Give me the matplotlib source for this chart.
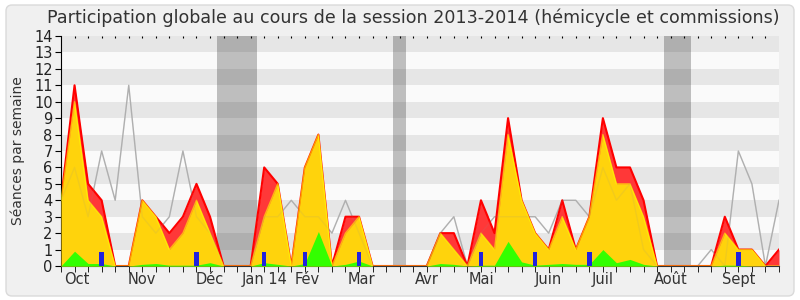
import matplotlib.pyplot as plt
import numpy as np
from matplotlib.patches import FancyBboxPatch

weeks = np.arange(54)
# participation totale (rouge), hemicycle (jaune), commissions (vert)
total = [4, 11, 5, 4, 0, 0, 4, 3, 2, 3, 5, 3, 0, 0, 0, 6, 5, 0, 6, 8,
         0, 3, 3, 0, 0, 0, 0, 0, 2, 2, 0, 4, 2, 9, 4, 2, 1, 4, 1, 3,
         9, 6, 6, 4, 0, 0, 0, 0, 0, 3, 1, 1, 0, 1]
hemi = [4, 10, 4, 3, 0, 0, 4, 3, 1, 2, 4, 2, 0, 0, 0, 3, 5, 0, 6, 8,
        0, 2, 3, 0, 0, 0, 0, 0, 2, 1, 0, 2, 1, 8, 4, 2, 1, 3, 1, 3,
        8, 5, 5, 3, 0, 0, 0, 0, 0, 2, 1, 1, 0, 0]
comm = [0, 0.9, 0.15, 0.15, 0, 0, 0.1, 0.15, 0.05, 0.05, 0.05, 0.2, 0, 0, 0, 0.2, 0.1, 0, 0.15, 2.1,
        0, 0.1, 0.3, 0, 0, 0, 0, 0, 0.15, 0.1, 0, 0.05, 0.05, 1.5, 0.25, 0.05, 0.1, 0.15, 0.1, 0.1,
        1.0, 0.2, 0.4, 0.1, 0, 0, 0, 0, 0, 0.05, 0.05, 0, 0, 0]
mediane = [4, 6, 3, 7, 4, 11, 3, 2, 3, 7, 3, 2, 0, 0, 0, 3, 3, 4, 3, 3,
           2, 4, 2, 0, 0, 0, 0, 0, 2, 3, 0, 2, 3, 3, 3, 3, 2, 4, 4, 3,
           6, 4, 5, 1, 0, 0, 0, 0, 1, 0, 7, 5, 0, 4]
questions = [3, 10, 15, 18, 22, 31, 35, 39, 50]
vacances = [(11.5, 14.5), (24.5, 25.5), (44.5, 46.5)]
mois = ['Oct', 'Nov', 'Déc', 'Jan 14', 'Fév', 'Mar', 'Avr', 'Mai', 'Juin', 'Juil', 'Août', 'Sept']
mois_pos = [1.15, 6, 11, 15, 18.2, 22.2, 27, 31, 36, 40, 45, 50]

fig = plt.figure(figsize=(8, 3), dpi=100, facecolor='white')
fig.patches.append(FancyBboxPatch((6, 4), 788, 291, boxstyle='round,pad=0,rounding_size=6',
                                  transform=None, fc='#f0f0f0', ec='#dadada', lw=1, zorder=-10))
ax = fig.add_axes([61 / 800, 1 - 266 / 300, 718 / 800, 230 / 300])
ax.set_facecolor('#fafafa')

for k in range(1, 14, 2):
    ax.axhspan(k, k + 1, color='#e6e6e6', lw=0, zorder=0)
for a, b in vacances:
    ax.axvspan(a, b, color='black', alpha=0.24, lw=0, zorder=0.5)

ax.plot(weeks, mediane, color='#b4b4b4', lw=1, zorder=1)
ax.fill_between(weeks, 0, total, color='#ff3838', lw=0, zorder=2)
ax.plot(weeks, total, color='#ff0000', lw=1.5, zorder=2.1)
ax.fill_between(weeks, 0, hemi, color='#ffd30c', lw=0, zorder=3)
ax.plot(weeks, hemi, color='#ffff00', lw=1, alpha=0.6, zorder=3.1)
ax.fill_between(weeks, 0, comm, color='#33ff00', lw=0, zorder=4)
# mediane visible en transparence sur les aires
ax.plot(weeks, mediane, color='#909090', lw=1, alpha=0.12, zorder=4.5)
ax.bar(questions, 0.85, width=0.32, color='#2222dd', zorder=5)

ax.set_xlim(0, 53)
ax.set_ylim(0, 14)
ax.set_yticks(range(15))
ax.tick_params(axis='y', labelsize=10.5, length=4, color='black', pad=2, labelcolor='#222222')

ax.xaxis.remove_overlapping_locs = False
ax.set_xticks(mois_pos, mois)
ax.set_xticks(weeks, minor=True)
ax.tick_params(axis='x', which='major', length=0, labelsize=10.5, pad=4, labelcolor='#333333')
ax.tick_params(axis='x', which='minor', length=4, color='black')

top = ax.secondary_xaxis('top')
top.set_xticks(weeks[1:-1], [])
top.tick_params(direction='in', length=1.5, color='black')
top.spines['top'].set_visible(False)

for s in ['top', 'right']:
    ax.spines[s].set_visible(False)
ax.spines['left'].set_color('black')
ax.spines['bottom'].set_color('#333333')

fig.text(413 / 800, 1 - 18 / 300, 'Participation globale au cours de la session 2013-2014 (hémicycle et commissions)',
         ha='center', va='center', fontsize=12.6, color='#333333')
fig.text(18 / 800, 1 - 151 / 300, 'Séances par semaine', rotation=90, ha='center', va='center',
         fontsize=10, color='#333333')

fig.savefig('out.png', dpi=100, facecolor=fig.get_facecolor())
